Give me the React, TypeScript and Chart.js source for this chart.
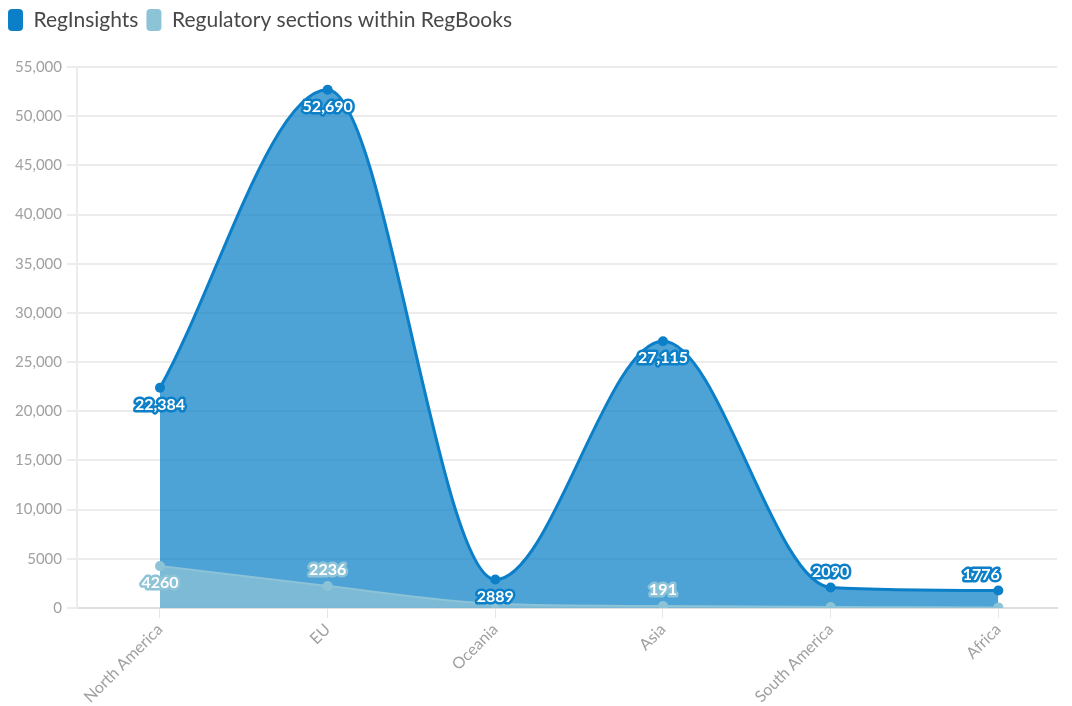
import React, { useEffect, useRef } from "react";
import { Chart, registerables } from "chart.js";

Chart.register(...registerables);

// Regions along the x axis
const regions = ["North America", "EU", "Oceania", "Asia", "South America", "Africa"];
// RegInsights counts per region
const regInsights = [22384, 52690, 2889, 27115, 2090, 1776];
// Regulatory sections within RegBooks per region
const regBooks = [4260, 2236, 420, 191, 110, 60];
// Value axis ticks
const yTicks = [0, 5000, 10000, 15000, 20000, 25000, 30000, 35000, 40000, 45000, 50000, 55000];

const FONT = "Lato, 'Open Sans', sans-serif";
const DARK = "rgb(11,127,199)";
const DARK_FILL = "rgba(11,127,199,0.73)";
const LIGHT = "rgb(140,195,215)";
const LIGHT_FILL = "rgba(140,195,215,0.75)";

// Thousands separator only from five digits up
const fmt = (v: number) => (Math.abs(v) >= 10000 ? v.toLocaleString("en-US") : String(v));

type Place = "above" | "below" | null;

// Value labels: white bold text outlined in the series colour
const valueLabels = {
  id: "valueLabels",
  afterDatasetsDraw(chart: any, _args: any, opts: any) {
    const ctx: CanvasRenderingContext2D = chart.ctx;
    ctx.save();
    ctx.font = `bold 16px ${FONT}`;
    ctx.textAlign = "center";
    ctx.textBaseline = "middle";
    ctx.lineJoin = "round";
    for (const di of [1, 0]) {
      const ds = chart.data.datasets[di];
      const meta = chart.getDatasetMeta(di);
      const places: Place[] = opts.placement[di];
      const shifts: number[] = opts.shiftX[di];
      meta.data.forEach((pt: any, i: number) => {
        const p = places[i];
        if (!p) return;
        const text = fmt(ds.data[i].y);
        const x = pt.x + (shifts[i] || 0);
        const y = pt.y + (p === "above" ? -16 : 17);
        ctx.lineWidth = 5;
        ctx.strokeStyle = ds.borderColor;
        ctx.strokeText(text, x, y);
        ctx.fillStyle = "#ffffff";
        ctx.fillText(text, x, y);
      });
    }
    ctx.restore();
  },
};

// Extra room under the legend row
const legendSpacing = {
  id: "legendSpacing",
  beforeInit(chart: any) {
    const legend = chart.legend;
    if (!legend) return;
    const fit = legend.fit;
    legend.fit = function () {
      fit.call(this);
      this.height += 26;
    };
  },
};

export default function App() {
  const canvasRef = useRef<HTMLCanvasElement | null>(null);

  useEffect(() => {
    if (!canvasRef.current) return;
    const chart = new Chart(canvasRef.current, {
      type: "line",
      data: {
        datasets: [
          {
            label: "RegInsights",
            data: regInsights.map((v, i) => ({ x: i, y: v })),
            borderColor: DARK,
            backgroundColor: DARK_FILL,
            pointBackgroundColor: DARK,
            pointBorderWidth: 0,
            pointRadius: 5,
            borderWidth: 3,
            fill: "origin",
            cubicInterpolationMode: "monotone",
            order: 1,
          },
          {
            label: "Regulatory sections within RegBooks",
            data: regBooks.map((v, i) => ({ x: i, y: v })),
            borderColor: LIGHT,
            backgroundColor: LIGHT_FILL,
            pointBackgroundColor: LIGHT,
            pointBorderWidth: 0,
            pointRadius: 5,
            borderWidth: 2,
            fill: "origin",
            cubicInterpolationMode: "monotone",
            order: 0,
          },
        ],
      },
      options: {
        animation: false,
        responsive: true,
        maintainAspectRatio: false,
        layout: { padding: { left: 0, right: 15, top: 1, bottom: 0 } },
        plugins: {
          legend: {
            position: "top",
            align: "start",
            labels: {
              boxWidth: 15,
              boxHeight: 22,
              useBorderRadius: true,
              borderRadius: 4,
              padding: 8,
              color: "#484848",
              font: { family: FONT, size: 21 },
              sort: (a: any, b: any) => a.datasetIndex - b.datasetIndex,
              generateLabels: (c: any) =>
                Chart.defaults.plugins.legend.labels.generateLabels(c).map((item: any) => ({
                  ...item,
                  fillStyle: c.data.datasets[item.datasetIndex].borderColor,
                  strokeStyle: c.data.datasets[item.datasetIndex].borderColor,
                  lineWidth: 0,
                })),
            },
          },
          tooltip: { enabled: false },
          valueLabels: {
            placement: [
              ["below", "below", "below", "below", "above", "above"],
              ["below", "above", null, "above", null, null],
            ],
            shiftX: [
              [0, 0, 0, 0, 0, -17],
              [0, 0, 0, 0, 0, 0],
            ],
          },
        } as any,
        scales: {
          x: {
            type: "linear",
            min: -0.495,
            max: 5.35,
            afterBuildTicks: (s: any) => {
              s.ticks = regions.map((_, i) => ({ value: i }));
            },
            afterFit: (s: any) => {
              s.height = 98;
            },
            ticks: {
              callback: (v: any) => regions[v as number] ?? "",
              autoSkip: false,
              minRotation: 45,
              maxRotation: 45,
              color: "#a0a0a0",
              font: { family: FONT, size: 16 },
              padding: 2,
            },
            grid: { drawOnChartArea: false, tickLength: 10, color: "#e6e6e6" },
            border: { color: "#dedede", width: 2 },
          },
          y: {
            min: 0,
            max: 55000,
            afterBuildTicks: (s: any) => {
              s.ticks = yTicks.map((v) => ({ value: v }));
            },
            afterFit: (s: any) => {
              s.width = 77;
            },
            ticks: {
              callback: (v: any) => fmt(v as number),
              color: "#a0a0a0",
              font: { family: FONT, size: 15 },
              padding: 5,
            },
            grid: { color: "#ececec", lineWidth: 2, tickLength: 10 },
            border: { color: "#ececec", width: 2 },
          },
        },
      },
      plugins: [valueLabels, legendSpacing],
    });
    return () => chart.destroy();
  }, []);

  return (
    <div style={{ position: "fixed", left: 0, top: 0, width: 1072, height: 706, background: "#fff" }}>
      <canvas ref={canvasRef} />
    </div>
  );
}
